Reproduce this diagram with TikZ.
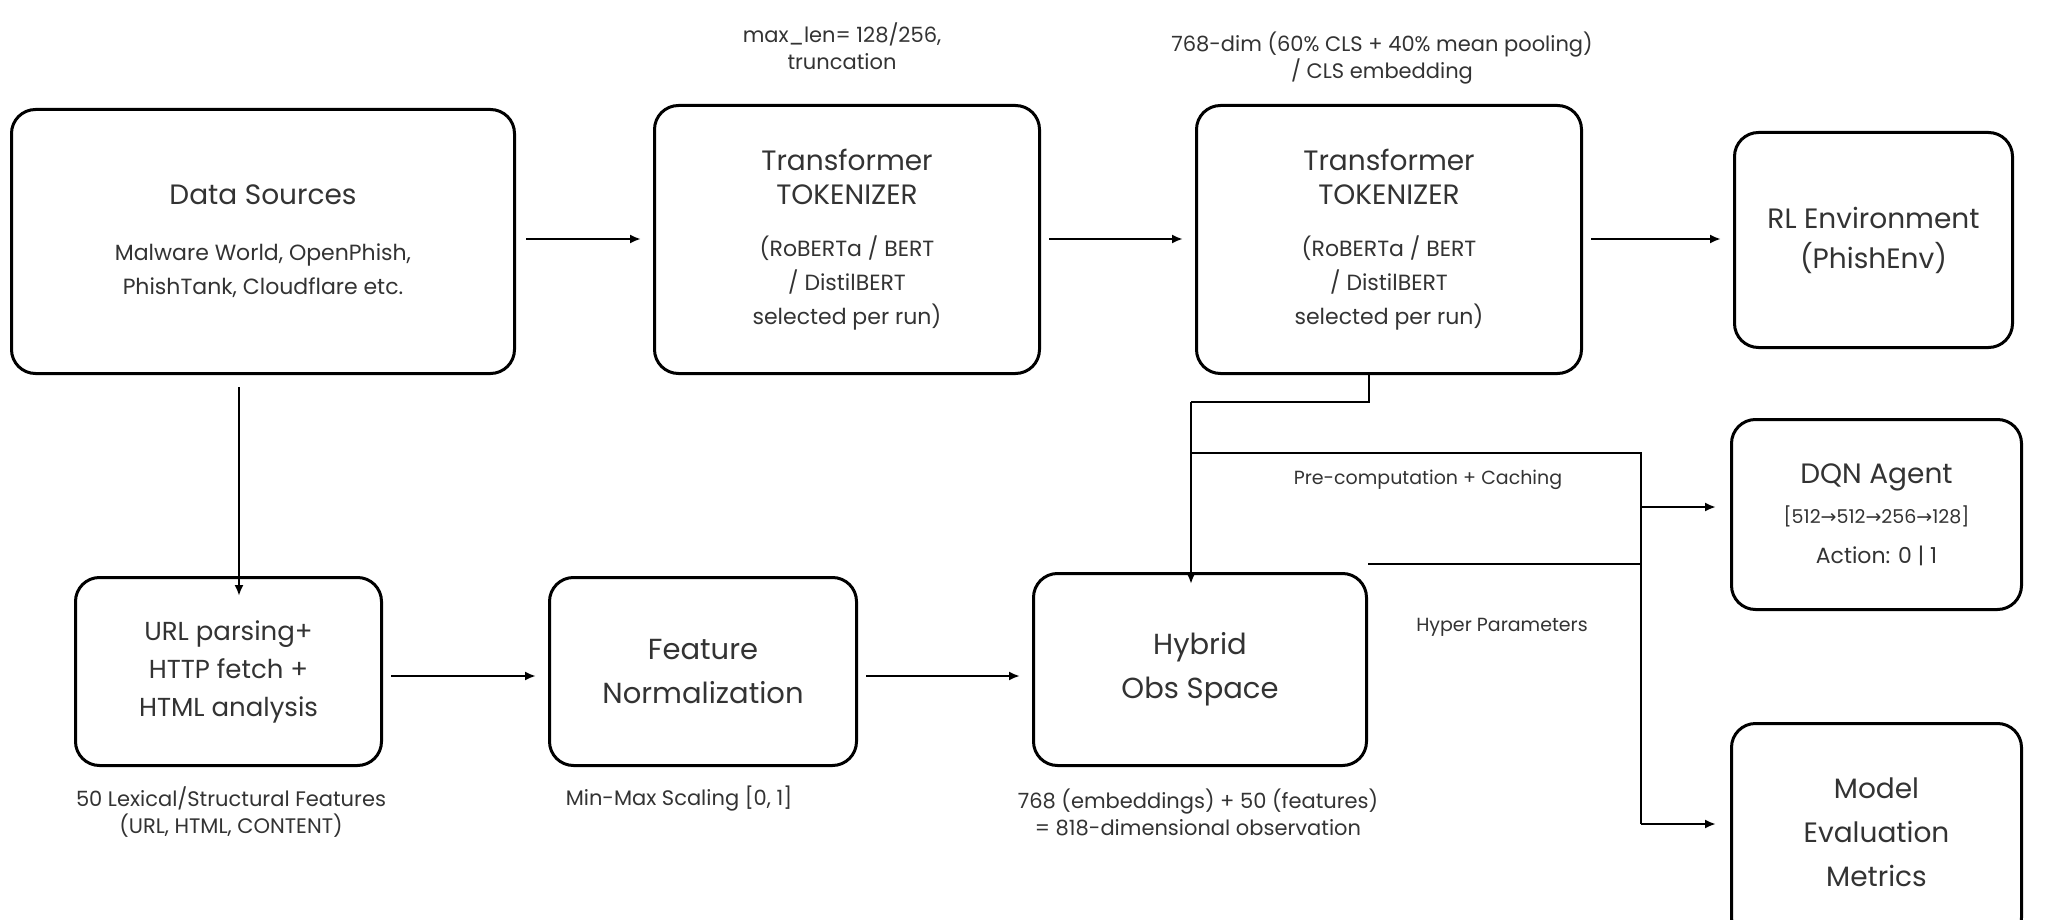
\documentclass[tikz,border=0pt]{standalone}
\usepackage{fontspec}
\setmainfont{Poppins}
\newfontfamily\dvs{DejaVu Sans}
\usetikzlibrary{arrows.meta}
\definecolor{txt}{HTML}{333333}
\newcommand{\sub}{\fontsize{22}{32}\selectfont}
\begin{document}
\begin{tikzpicture}[x=1pt,y=-1pt,
  box/.style={draw=black,line width=3pt,rounded corners=24pt,align=center,text=txt},
  lbl/.style={align=center,text=txt,font=\fontsize{21}{27}\selectfont},
  con/.style={line width=2.8pt,-{Latex[length=11pt,width=9pt]}},
  ln/.style={line width=2.8pt}]
\fill[white] (0,0) rectangle (2048,920);
\useasboundingbox (0,0) rectangle (2048,920);
\newcommand{\bx}[7]{\node[box,font=#6,minimum width=#4-#2,minimum height=#5-#3,anchor=north west] (#1) at (#2,#3) {#7};}
\bx{ds}{10}{108}{513}{372}{\fontsize{28}{34}\selectfont}{Data Sources\\[22pt]\sub Malware World, OpenPhish,\\\sub PhishTank, Cloudflare etc.}
\bx{tk1}{653}{104}{1038}{372}{\fontsize{28}{34}\selectfont}{Transformer\\TOKENIZER\\[18pt]\sub (RoBERTa / BERT\\\sub / DistilBERT\\\sub selected per run)}
\bx{tk2}{1195}{104}{1580}{372}{\fontsize{28}{34}\selectfont}{Transformer\\TOKENIZER\\[18pt]\sub (RoBERTa / BERT\\\sub / DistilBERT\\\sub selected per run)}
\bx{rl}{1733}{131}{2011}{346}{\fontsize{28}{40}\selectfont}{RL Environment\\(PhishEnv)}
\bx{dqn}{1730}{418}{2020}{608}{\fontsize{28}{40}\selectfont}{DQN Agent\\{\fontsize{19}{28}\selectfont [512{\dvs→}512{\dvs→}256{\dvs→}128]}\\{\fontsize{22}{30}\selectfont Action: 0 | 1}}
\bx{ev}{1730}{722}{2020}{940}{\fontsize{28}{44}\selectfont}{Model\\Evaluation\\Metrics}
\bx{url}{74}{576}{380}{764}{\fontsize{26}{38}\selectfont}{URL parsing+\\HTTP fetch +\\HTML analysis}
\bx{fn}{548}{576}{855}{764}{\fontsize{29}{44}\selectfont}{Feature\\Normalization}
\bx{hy}{1032}{572}{1365}{764}{\fontsize{29}{44}\selectfont}{Hybrid\\Obs Space}
\node[lbl] (l1) at (842,46) {max\_len= 128/256,\\truncation};
\node[lbl] (l2) at (1382,58) {768-dim (60\% CLS + 40\% mean pooling)\\/ CLS embedding};
\node[lbl] (l3) at (231,812) {50 Lexical/Structural Features\\(URL, HTML, CONTENT)};
\node[lbl] (l4) at (679,799) {Min-Max Scaling [0, 1]};
\node[lbl] (l5) at (1198,812) {768 (embeddings) + 50 (features)\\= 818-dimensional observation};
\node[lbl,font=\fontsize{19}{24}\selectfont] (l6) at (1428,480) {Pre-computation + Caching};
\node[lbl,font=\fontsize{19}{24}\selectfont] (l7) at (1502,627) {Hyper Parameters};
\coordinate (t1) at (1369,402);
\coordinate (t2) at (1191,402);
\coordinate (b1) at (1191,453);
\coordinate (b2) at (1641,453);
\coordinate (b3) at (1641,507);
\coordinate (b4) at (1641,564);
\coordinate (b5) at (1641,824);
\draw[con] (ds.east|-0,239) ++(10,0) -- ([xshift=-12pt]tk1.west|-0,239);
\draw[con] ([xshift=8pt]tk1.east|-0,239) -- ([xshift=-12pt]tk2.west|-0,239);
\draw[con] ([xshift=8pt]tk2.east|-0,239) -- ([xshift=-12pt]rl.west|-0,239);
\draw[con] (ds.south-|239,0) ++(0,12) -- ([yshift=-20pt]url.north-|239,0);
\draw[con] ([xshift=8pt]url.east|-0,676) -- ([xshift=-12pt]fn.west|-0,676);
\draw[con] ([xshift=8pt]fn.east|-0,676) -- ([xshift=-12pt]hy.west|-0,676);
\draw[ln] (tk2.south-|t1) -- (t1) -- (t2);
\draw[con] (t2) -- ([yshift=-12pt]hy.north-|t2);
\draw[ln] (b1) -- (b2) -- (b5);
\draw[ln] (hy.east|-b4) -- (b4);
\draw[con] (b3) -- ([xshift=-14pt]dqn.west|-b3);
\draw[con] (b5) -- ([xshift=-14pt]ev.west|-b5);
\end{tikzpicture}
\end{document}
